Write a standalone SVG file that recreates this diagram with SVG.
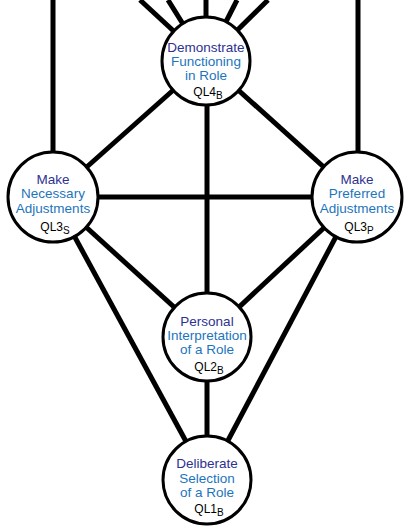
<svg xmlns="http://www.w3.org/2000/svg" width="409" height="529" viewBox="0 0 409 529">
<style>
.edge{stroke:#000;stroke-width:5;fill:none;stroke-linecap:butt}
.node circle{fill:#fff;stroke:#000;stroke-width:3}
.t{font-family:"Liberation Sans",Arial,sans-serif;font-size:13.5px;text-anchor:middle}
.t1{fill:#2e3192}
.t2{fill:#1c75bc}
.ql{font-family:"Liberation Sans",Arial,sans-serif;font-size:12px;fill:#000;text-anchor:middle}
.sub{font-size:10px}
</style>
<rect width="409" height="529" fill="#fff"/>
<g id="connectors">
<line class="edge" x1="53" y1="0" x2="53" y2="197"/>
<line class="edge" x1="358" y1="0" x2="358" y2="197"/>
<line class="edge" x1="140" y1="0" x2="206" y2="61"/>
<line class="edge" x1="168" y1="0" x2="206" y2="61"/>
<line class="edge" x1="206" y1="0" x2="206" y2="61"/>
<line class="edge" x1="237" y1="0" x2="206" y2="61"/>
<line class="edge" x1="268" y1="0" x2="206" y2="61"/>
<line class="edge" x1="206" y1="61" x2="53" y2="197"/>
<line class="edge" x1="206" y1="61" x2="357" y2="197"/>
<line class="edge" x1="207" y1="61" x2="207" y2="337"/>
<line class="edge" x1="53" y1="197" x2="357" y2="197"/>
<line class="edge" x1="53" y1="197" x2="207" y2="337"/>
<line class="edge" x1="357" y1="197" x2="207" y2="337"/>
<line class="edge" x1="53" y1="197" x2="207" y2="480"/>
<line class="edge" x1="357" y1="197" x2="207" y2="480"/>
<line class="edge" x1="207" y1="337" x2="207" y2="480"/>
</g>
<g id="ql4b" class="node">
<circle cx="206" cy="61" r="44"/>
<text class="t t1" x="206" y="52">Demonstrate</text>
<text class="t t2" x="206" y="66">Functioning</text>
<text class="t t2" x="206" y="80">in Role</text>
<text class="ql" x="208" y="96">QL4<tspan class="sub" dy="3">B</tspan></text>
</g>
<g id="ql3s" class="node">
<circle cx="53" cy="197" r="45"/>
<text class="t t1" x="53" y="184">Make</text>
<text class="t t2" x="53" y="198">Necessary</text>
<text class="t t2" x="53" y="213">Adjustments</text>
<text class="ql" x="55" y="231">QL3<tspan class="sub" dy="3">S</tspan></text>
</g>
<g id="ql3p" class="node">
<circle cx="357" cy="197" r="45"/>
<text class="t t1" x="357" y="184">Make</text>
<text class="t t2" x="357" y="198">Preferred</text>
<text class="t t2" x="357" y="213">Adjustments</text>
<text class="ql" x="359" y="231">QL3<tspan class="sub" dy="3">P</tspan></text>
</g>
<g id="ql2b" class="node">
<circle cx="207" cy="337" r="44"/>
<text class="t t1" x="207" y="326">Personal</text>
<text class="t t2" x="207" y="340">Interpretation</text>
<text class="t t2" x="207" y="354">of a Role</text>
<text class="ql" x="209" y="371">QL2<tspan class="sub" dy="3">B</tspan></text>
</g>
<g id="ql1b" class="node">
<circle cx="207" cy="480" r="44"/>
<text class="t t1" x="207" y="468">Deliberate</text>
<text class="t t2" x="207" y="483">Selection</text>
<text class="t t2" x="207" y="497">of a Role</text>
<text class="ql" x="209" y="513">QL1<tspan class="sub" dy="3">B</tspan></text>
</g>
</svg>
